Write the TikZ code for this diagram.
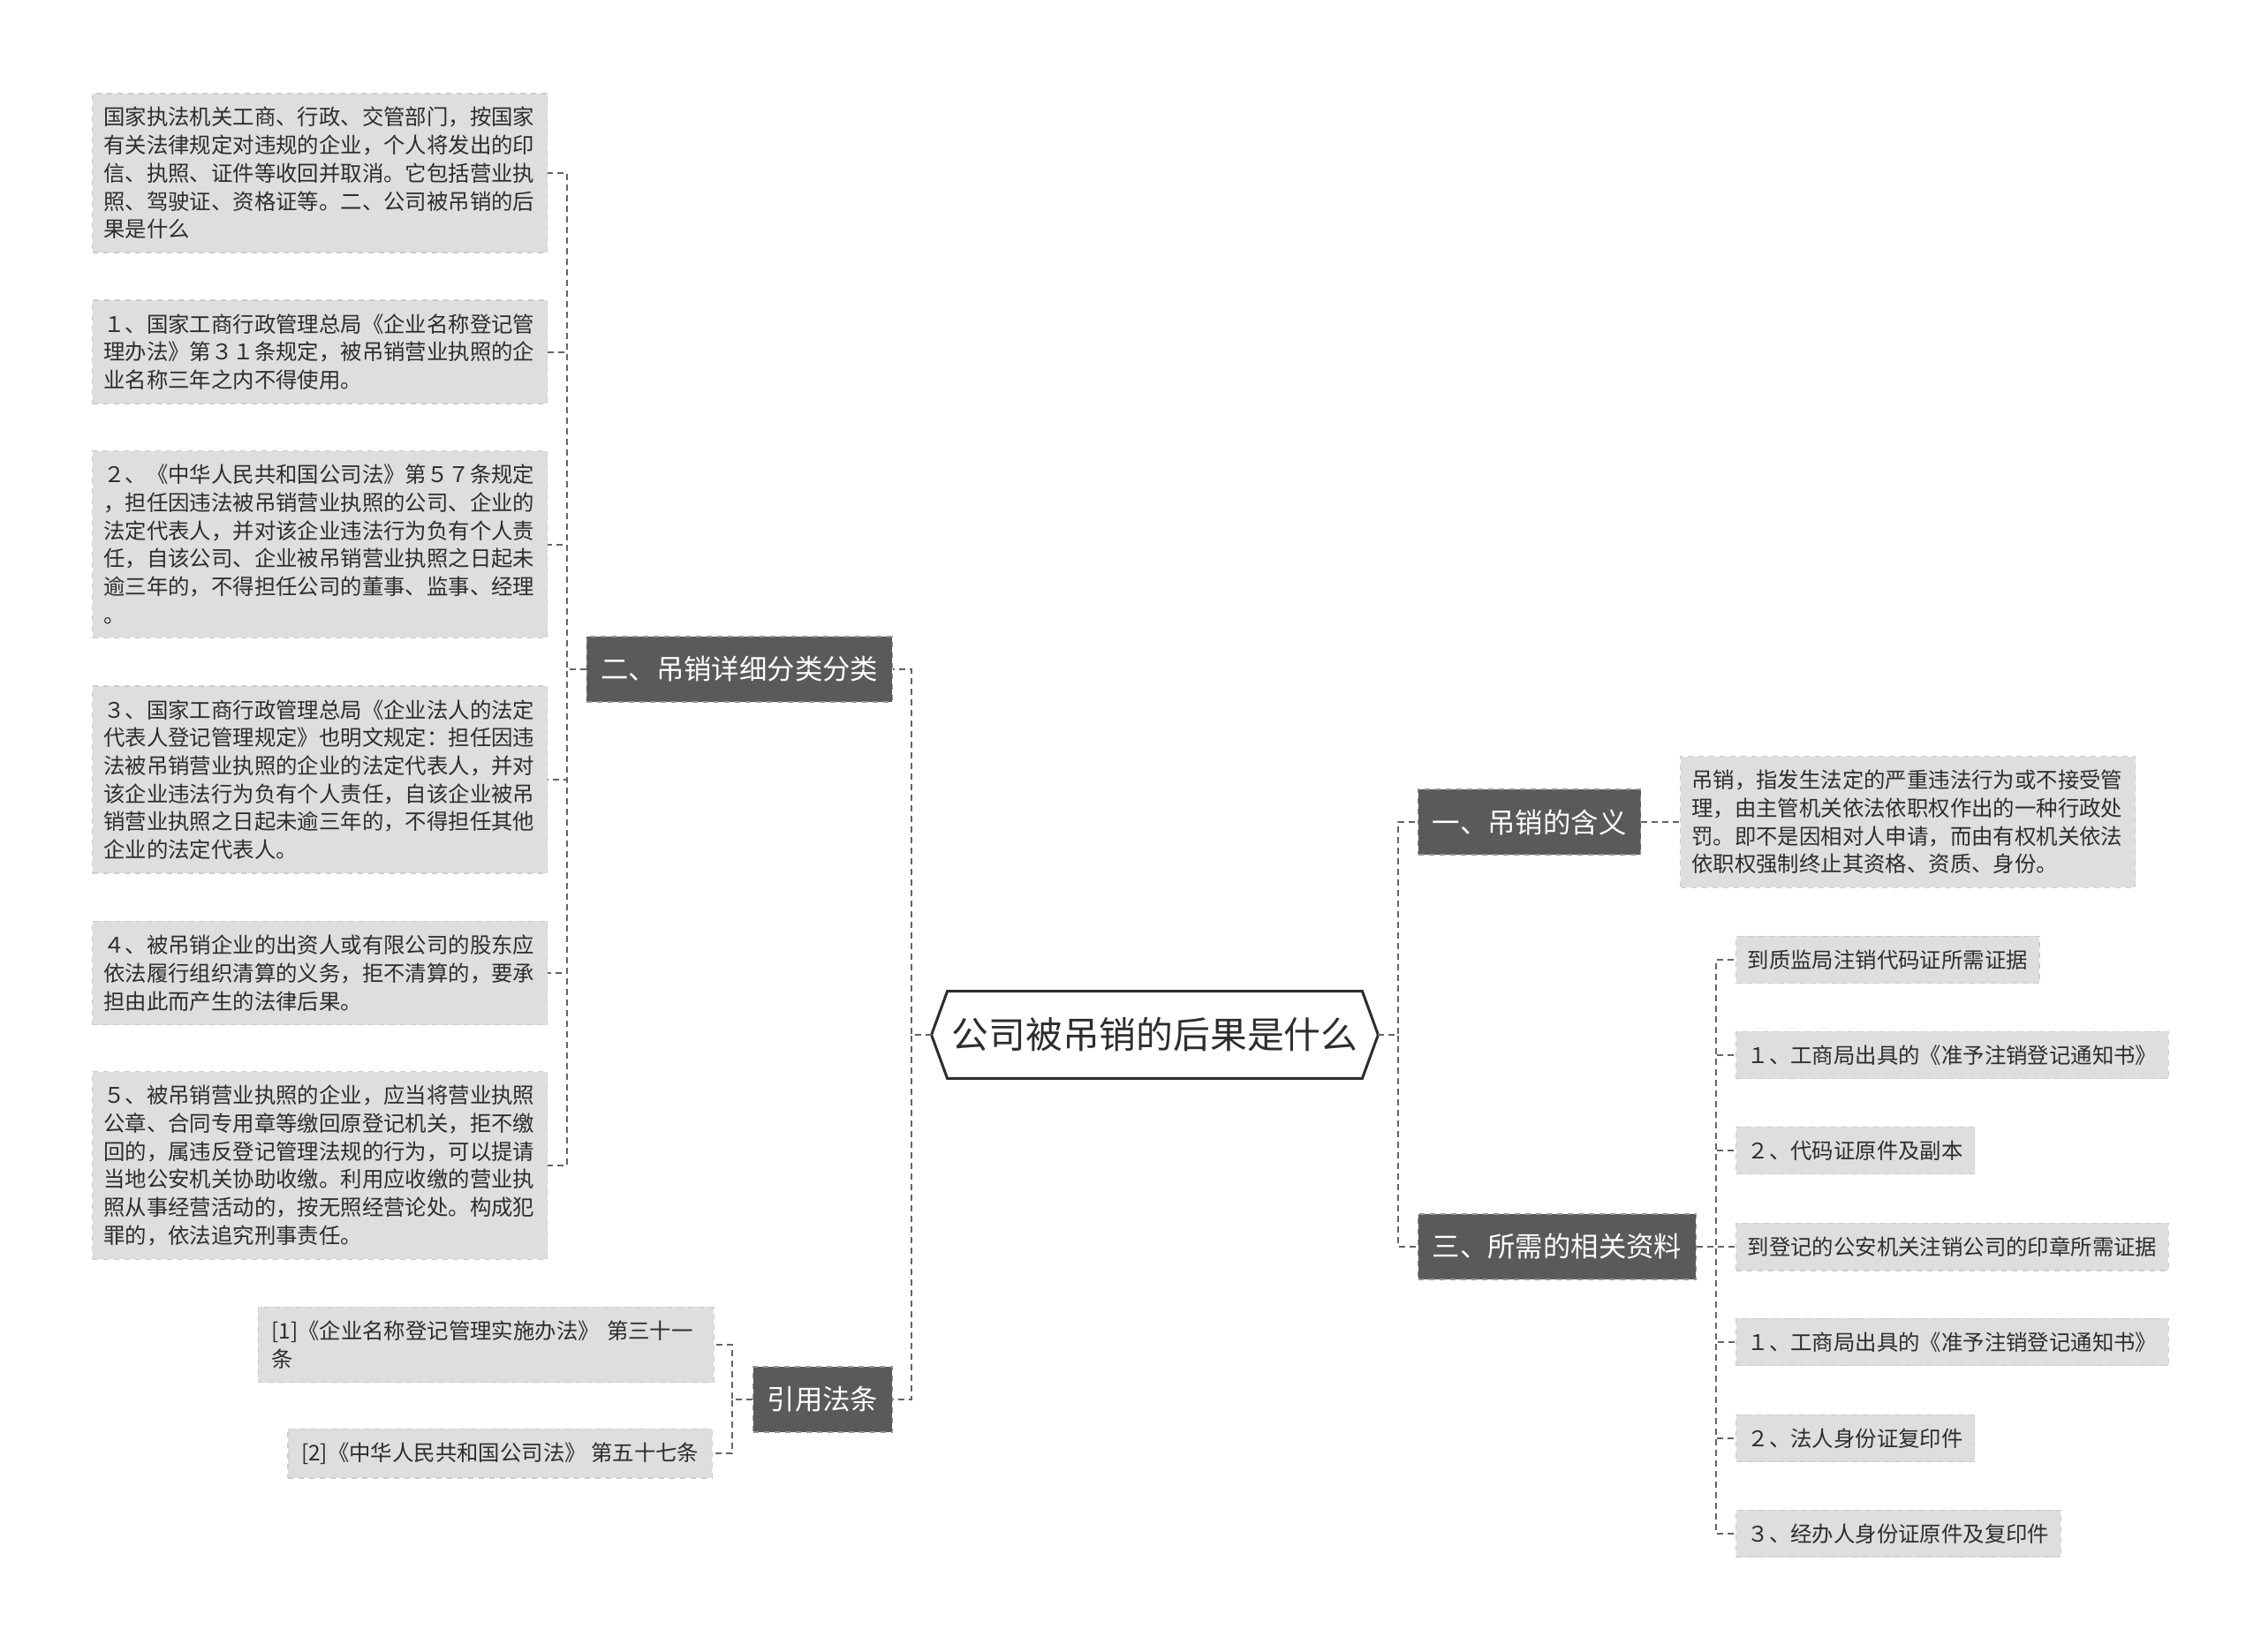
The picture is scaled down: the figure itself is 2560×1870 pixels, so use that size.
\documentclass[tikz,border=0pt]{standalone}
\usepackage{fontspec}
\setmainfont{Noto Sans CJK SC}
\usetikzlibrary{positioning, calc}
\definecolor{leafgray}{RGB}{222, 222, 222}
\definecolor{leafedge}{RGB}{204, 204, 204}
\definecolor{branchgray}{RGB}{90, 90, 90}
\definecolor{branchedge}{RGB}{150, 150, 150}
\definecolor{linkgray}{RGB}{100, 100, 100}
\definecolor{inkgray}{RGB}{45, 45, 45}
\XeTeXlinebreaklocale "zh"
\XeTeXlinebreakskip = 0pt plus 1pt

\begin{document}
\begin{tikzpicture}[x=0.5pt, y=-0.5pt,
  link/.style={draw=linkgray, line width=1pt, dash pattern=on 3.5pt off 2.5pt},
  leafbox/.style={fill=leafgray, draw=leafedge, dashed, line width=0.7pt, text=inkgray,
    font=\fontsize{12.2}{15.85}\selectfont, inner xsep=6.5pt, inner ysep=7.7pt},
  notebox/.style={leafbox, text width=245pt, align=left, inner xsep=6.25pt},
  branchbox/.style={fill=branchgray, draw=branchedge, dashed, line width=0.7pt, text=white,
    font=\fontsize{15.7}{18}\selectfont, inner xsep=8pt, minimum height=37pt},
  topicbox/.style={minimum width=252.5pt, minimum height=49pt, inner sep=0pt, text=inkgray,
    font=\fontsize{20.9}{24}\selectfont}
]
  \useasboundingbox[fill=white] (0,0) rectangle (2560,1870);

  % central topic
  \node[topicbox] (topic) at (1307.5,1172) {公司被吊销的后果是什么};
  \draw[inkgray, line width=1.5pt, line join=miter] (topic.west) -- ([xshift=9pt]topic.north west)
    -- ([xshift=-9pt]topic.north east) -- (topic.east) -- ([xshift=-9pt]topic.south east)
    -- ([xshift=9pt]topic.south west) -- cycle;

  % main branches
  \node[branchbox, anchor=east] (detail) at (1011,758) {二、吊销详细分类分类};
  \node[branchbox, anchor=east] (cite) at (1011,1585) {引用法条};
  \node[branchbox, anchor=west] (meaning) at (1605,931) {一、吊销的含义};
  \node[branchbox, anchor=west] (material) at (1605,1412) {三、所需的相关资料};

  % left leaves
  \node[notebox, anchor=west] (det1) at (104,196) {国家执法机关工商、行政、交管部门，按国家\\有关法律规定对违规的企业，个人将发出的印\\信、执照、证件等收回并取消。它包括营业执\\照、驾驶证、资格证等。二、公司被吊销的后\\果是什么};
  \node[notebox, anchor=west] (det2) at (104,398.5) {１、国家工商行政管理总局《企业名称登记管\\理办法》第３１条规定，被吊销营业执照的企\\业名称三年之内不得使用。};
  \node[notebox, anchor=west] (det3) at (104,616.5) {２、《中华人民共和国公司法》第５７条规定\\，担任因违法被吊销营业执照的公司、企业的\\法定代表人，并对该企业违法行为负有个人责\\任，自该公司、企业被吊销营业执照之日起未\\逾三年的，不得担任公司的董事、监事、经理\\。};
  \node[notebox, anchor=west] (det4) at (104,883) {３、国家工商行政管理总局《企业法人的法定\\代表人登记管理规定》也明文规定：担任因违\\法被吊销营业执照的企业的法定代表人，并对\\该企业违法行为负有个人责任，自该企业被吊\\销营业执照之日起未逾三年的，不得担任其他\\企业的法定代表人。};
  \node[notebox, anchor=west] (det5) at (104,1102) {４、被吊销企业的出资人或有限公司的股东应\\依法履行组织清算的义务，拒不清算的，要承\\担由此而产生的法律后果。};
  \node[notebox, anchor=west] (det6) at (104,1320) {５、被吊销营业执照的企业，应当将营业执照\\公章、合同专用章等缴回原登记机关，拒不缴\\回的，属违反登记管理法规的行为，可以提请\\当地公安机关协助收缴。利用应收缴的营业执\\照从事经营活动的，按无照经营论处。构成犯\\罪的，依法追究刑事责任。};

  % cited laws
  \node[leafbox, text width=243pt, align=left, inner xsep=7.5pt, anchor=east] (ref1) at (809,1523) {[1]《企业名称登记管理实施办法》 第三十一\\条};
  \node[leafbox, inner xsep=7.5pt, anchor=east] (ref2) at (807,1646) {[2]《中华人民共和国公司法》 第五十七条};

  % right leaves
  \node[notebox, anchor=west] (mean1) at (1902,931) {吊销，指发生法定的严重违法行为或不接受管\\理，由主管机关依法依职权作出的一种行政处\\罚。即不是因相对人申请，而由有权机关依法\\依职权强制终止其资格、资质、身份。};
  \node[leafbox, anchor=west] (mat1) at (1965,1087) {到质监局注销代码证所需证据};
  \node[leafbox, anchor=west] (mat2) at (1965,1195) {１、工商局出具的《准予注销登记通知书》};
  \node[leafbox, anchor=west] (mat3) at (1965,1303) {２、代码证原件及副本};
  \node[leafbox, anchor=west] (mat4) at (1965,1412) {到登记的公安机关注销公司的印章所需证据};
  \node[leafbox, anchor=west] (mat5) at (1965,1520) {１、工商局出具的《准予注销登记通知书》};
  \node[leafbox, anchor=west] (mat6) at (1965,1629) {２、法人身份证复印件};
  \node[leafbox, anchor=west] (mat7) at (1965,1737) {３、经办人身份证原件及复印件};

  % connectors
  \foreach \b in {detail, cite}
    \draw[link] (topic.west) -- ++(-23,0) |- (\b.east);
  \foreach \b in {meaning, material}
    \draw[link] (topic.east) -- ++(23,0) |- (\b.west);
  \foreach \n in {det1, det2, det3, det4, det5, det6}
    \draw[link] (detail.west) -- ++(-22,0) |- (\n.east);
  \foreach \n in {ref1, ref2}
    \draw[link] (cite.west) -- ++(-23,0) |- (\n.east);
  \draw[link] (meaning.east) -- (mean1.west);
  \foreach \n in {mat1, mat2, mat3, mat4, mat5, mat6, mat7}
    \draw[link] (material.east) -- ++(22,0) |- (\n.west);
\end{tikzpicture}
\end{document}
